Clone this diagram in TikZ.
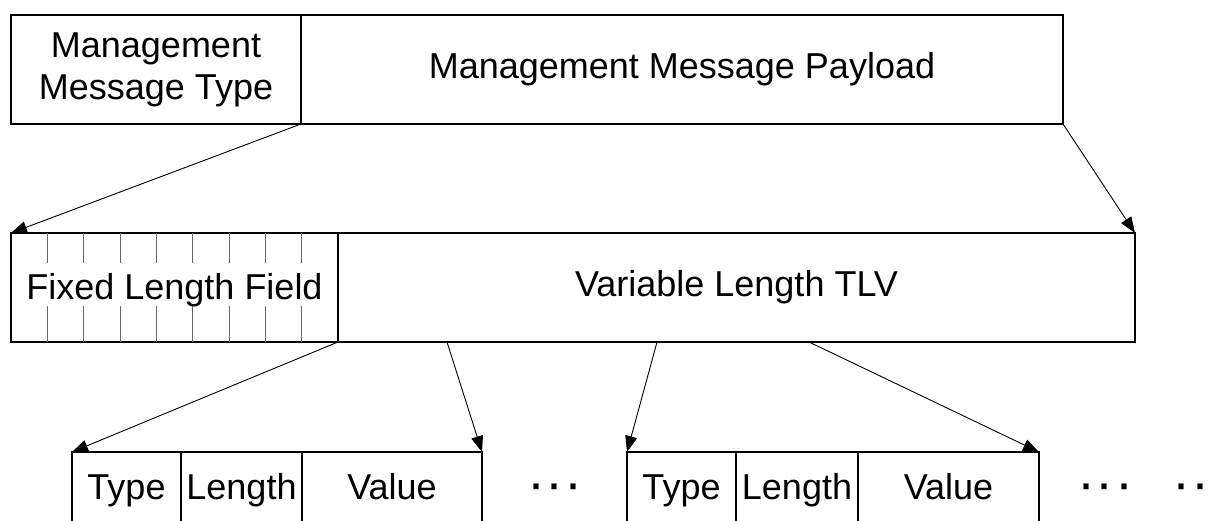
\documentclass[tikz,border=0pt]{standalone}
\usepackage{fontspec}
\setmainfont{Liberation Sans}
\usetikzlibrary{arrows.meta,calc}

\tikzset{
  field/.style={draw, line width=2.6pt, inner sep=0pt, outer sep=0pt,
    minimum height=109pt, align=center,
    font=\fontsize{36}{42}\selectfont},
  cell/.style={field, minimum height=76pt, text height=26pt, text depth=7.5pt},
  link/.style={line width=0.9pt, -{Triangle[length=16pt,width=12pt]}},
  tick/.style={line width=0.9pt, black!60},
  more/.style={inner sep=0pt, font=\fontsize{54}{56}\selectfont}
}
\newcommand{\threedots}{·\hspace{1pt}·\hspace{1pt}·}

\begin{document}
\begin{tikzpicture}[x=1pt, y=-1pt]
  \useasboundingbox (0,0) rectangle (1214,520);
  \clip (0,0) rectangle (1214,520);
  \fill[white] (0,0) rectangle (1214,520);

  % top level message
  \node[field, minimum width=290pt] (mtype) at (156,69.5)
    {Management\\Message Type};
  \node[field, minimum width=762pt] (mpay) at (682,69.5)
    {Management Message Payload};

  % payload split into a fixed part and a TLV part
  \node[field, minimum width=327pt] (fixed) at (174.5,287.5) {};
  \foreach \i in {1,...,8} {
    \draw[tick] ($(fixed.north west)+(\i*36.33,0)$) -- ++(0,30);
    \draw[tick] ($(fixed.south west)+(\i*36.33,0)$) -- ++(0,-36);
  }
  \node[inner sep=0pt, font=\fontsize{36}{42}\selectfont] (fixedlabel)
    at (174.5,290) {Fixed Length Field};
  \node[field, minimum width=797pt] (var) at (736.5,287.5)
    {Variable Length TLV};

  % first TLV
  \node[cell, minimum width=109pt] (t1) at (126.5,490) {Type};
  \node[cell, minimum width=121pt] (l1) at (241.5,490) {Length};
  \node[cell, minimum width=180pt] (v1) at (392,490) {Value};

  % second TLV
  \node[cell, minimum width=109pt] (t2) at (681.5,490) {Type};
  \node[cell, minimum width=122pt] (l2) at (797,490) {Length};
  \node[cell, minimum width=181pt] (v2) at (948.5,490) {Value};

  % continuation marks
  \node[more] (dots1) at (555,493) {\threedots};
  \node[more] (dots2) at (1105,493) {\threedots};
  \node[more] (dots3) at (1200,493) {\threedots};

  % expansion arrows
  \coordinate (s1) at (447,342);
  \coordinate (s2) at (657,342);
  \coordinate (s3) at (809,342);
  \draw[link] (mtype.south east) -- (fixed.north west);
  \draw[link] (mpay.south east) -- (var.north east);
  \draw[link] (fixed.south east) -- (t1.north west);
  \draw[link] (s1) -- (v1.north east);
  \draw[link] (s2) -- (t2.north west);
  \draw[link] (s3) -- (v2.north east);
\end{tikzpicture}
\end{document}
